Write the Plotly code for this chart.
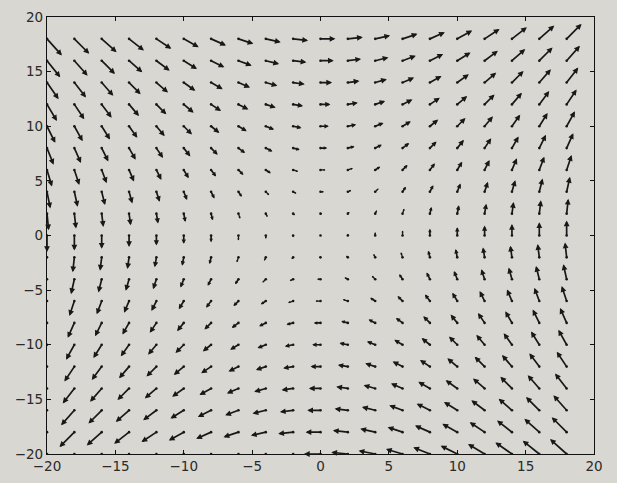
import math
import plotly.graph_objects as go

# Grid of arrow tails
x_positions = [-20, -18, -16, -14, -12, -10, -8, -6, -4, -2, 0, 2, 4, 6, 8, 10, 12, 14, 16, 18]
y_positions = [-20, -18, -16, -14, -12, -10, -8, -6, -4, -2, 0, 2, 4, 6, 8, 10, 12, 14, 16, 18]
# Horizontal component, constant along each row (one value per y position)
u_by_row = [-20, -18, -16, -14, -12, -10, -8, -6, -4, -2, 0, 2, 4, 6, 8, 10, 12, 14, 16, 18]
# Vertical component, constant along each column (one value per x position)
v_by_col = [-20, -18, -16, -14, -12, -10, -8, -6, -4, -2, 0, 2, 4, 6, 8, 10, 12, 14, 16, 18]

x_ticks = [-20, -15, -10, -5, 0, 5, 10, 15, 20]
y_ticks = [-20, -15, -10, -5, 0, 5, 10, 15, 20]
x_range = [-20, 20]
y_range = [-20, 20]

W, H = 617, 483
ML, MR, MT, MB = 47, 23, 17, 29
plot_w = W - ML - MR
plot_h = H - MT - MB
px_x = plot_w / (x_range[1] - x_range[0])
px_y = plot_h / (y_range[1] - y_range[0])
k = 0.83  # screen pixels per unit of vector magnitude

bg = "#d8d7d2"
ink = "#181818"

annotations = []
for i, y0 in enumerate(y_positions):
    for j, x0 in enumerate(x_positions):
        u = u_by_row[i]
        v = v_by_col[j]
        if u == 0 and v == 0:
            continue
        hx = x0 + u * k / px_x
        hy = y0 + v * k / px_y
        if hx < x_range[0] or hx > x_range[1] or hy < y_range[0] or hy > y_range[1]:
            continue  # clipped by the axes, as in the original
        length_px = k * math.hypot(u, v)
        shrink = min(1.0, length_px / 11.0)
        annotations.append(dict(
            x=hx, y=hy, ax=x0, ay=y0,
            xref="x", yref="y", axref="x", ayref="y",
            text="", showarrow=True,
            arrowhead=2, arrowsize=max(0.3, 0.68 * shrink),
            arrowwidth=1.7 if shrink >= 0.5 else 1.3,
            arrowcolor=ink,
            font=dict(size=1), borderpad=0, borderwidth=0,
            standoff=0, startstandoff=0,
        ))

gx = [x for y in y_positions for x in x_positions]
gy = [y for y in y_positions for x in x_positions]

fig = go.Figure()
fig.add_trace(go.Scatter(
    x=gx, y=gy, mode="markers",
    marker=dict(size=2.6, color=ink),
    hoverinfo="skip", showlegend=False,
))

axis_common = dict(
    showgrid=False, zeroline=False, automargin=False,
    showline=True, linecolor="#111111", linewidth=1.2, mirror="ticks",
    ticks="inside", ticklen=4, tickwidth=1, tickcolor="#111111",
    tickfont=dict(family="DejaVu Sans", size=13.5, color="#2a2a2a"),
)

fig.update_layout(
    width=W, height=H,
    margin=dict(l=ML, r=MR, t=MT, b=MB, pad=0),
    paper_bgcolor=bg, plot_bgcolor=bg,
    showlegend=False,
    annotations=annotations,
    xaxis=dict(range=x_range, tickvals=x_ticks, **axis_common),
    yaxis=dict(range=y_range, tickvals=y_ticks, **axis_common),
)

fig.write_html(
    "out.html",
    config={"displayModeBar": False},
    post_script=(
        "document.body.style.margin='0';"
        "document.body.style.padding='0';"
        "document.body.style.overflow='hidden';"
        f"document.body.style.background='{bg}';"
    ),
)
